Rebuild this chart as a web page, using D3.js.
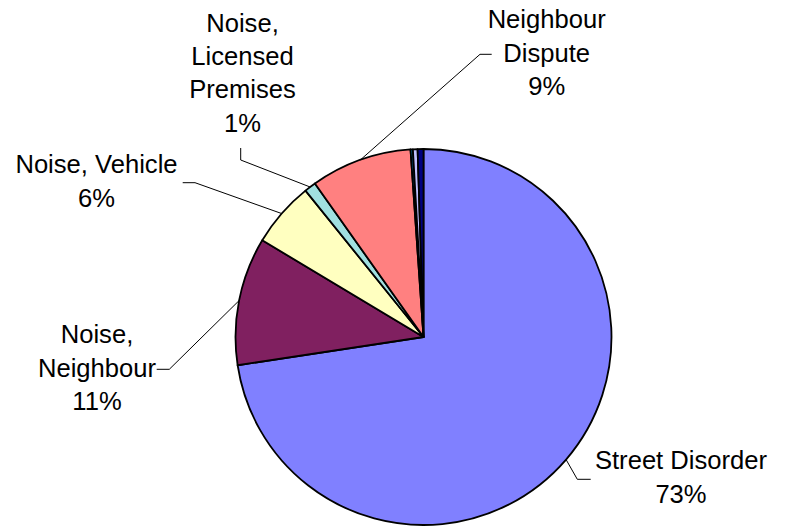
<!DOCTYPE html>
<html><head><meta charset="utf-8">
<script src="https://cdn.jsdelivr.net/npm/d3@7"></script>
<style>body{margin:0;background:#fff}svg{display:block}</style>
</head><body>
<svg id="c" width="785" height="526"></svg>
<script>
// Data (percent of total), clockwise from 12 o'clock
const categories = ["Street Disorder","Noise, Neighbour","Noise, Vehicle","Noise, Licensed Premises","Neighbour Dispute","Other A","Other B","Other C"];
const values = [72.6, 11.0, 5.6, 1.0, 8.7, 0.2, 0.4, 0.5];
const colors = ["#8080FF","#802060","#FFFFC0","#A0E0E0","#FF8080","#0080C0","#C0C0FF","#000080"];
// label text lines (without percent) ; null = no label
const labelLines = [["Street Disorder"],["Noise,","Neighbour"],["Noise, Vehicle"],["Noise,","Licensed","Premises"],["Neighbour","Dispute"],null,null,null];

// layout
const cx = 423.5, cy = 337, R = 188;
const fontSize = 25.6, lineH = 33.3;
const labelPos = [
  {x:681, y:469.3, p1:[590.7,479.3], p2:[577.3,479.3]},
  {x:97, y:343.3, p1:[156.7,369.3], p2:[169.3,369.3]},
  {x:96.5, y:173.3, p1:[182.7,182.7], p2:[195,182.7]},
  {x:242.5, y:31.7, p1:[240.7,148], p2:[240.7,160]},
  {x:546.7, y:28.3, p1:[491.7,54.3], p2:[480,54.3]},
  null,null,null
];

const svg = d3.select("#c");
const total = d3.sum(values);
const pie = d3.pie().sort(null).value(d=>d).startAngle(0).endAngle(2*Math.PI);
const arcs = pie(values);
const arc = d3.arc().innerRadius(0).outerRadius(R);
const g = svg.append("g").attr("transform",`translate(${cx},${cy})`);
g.selectAll("path").data(arcs).join("path")
  .attr("d",arc)
  .attr("fill",(d,i)=>colors[i])
  .attr("stroke","#000").attr("stroke-width",1.8).attr("stroke-linejoin","round");

arcs.forEach((a,i)=>{
  if(!labelLines[i]) return;
  const lp = labelPos[i];
  const mid = (a.startAngle+a.endAngle)/2;
  const ex = cx + R*Math.sin(mid), ey = cy - R*Math.cos(mid);
  svg.append("polyline")
    .attr("points",[lp.p1,lp.p2,[ex,ey]].map(p=>p.join(",")).join(" "))
    .attr("fill","none").attr("stroke","#000").attr("stroke-width",1);
  const lines = labelLines[i].concat([Math.round(values[i]/total*100)+"%"]);
  const t = svg.append("text").attr("text-anchor","middle")
    .attr("font-family","'Liberation Sans', Arial, sans-serif")
    .attr("font-size",fontSize).attr("fill","#000");
  lines.forEach((s,k)=>{
    t.append("tspan").attr("x",lp.x).attr("y",lp.y+k*lineH).text(s);
  });
});
</script>
</body></html>
